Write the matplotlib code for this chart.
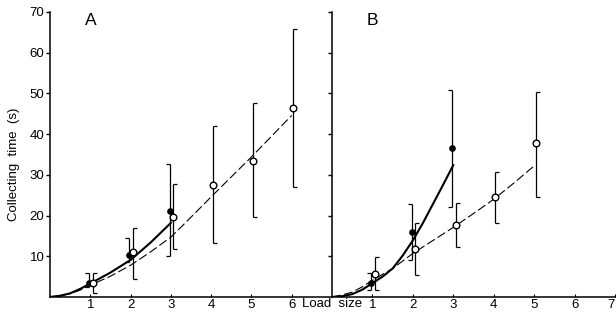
import numpy as np
import matplotlib
matplotlib.use('Agg')
import matplotlib.pyplot as plt

plt.rcParams['font.family'] = ['Liberation Sans', 'DejaVu Sans']

# ---- panel A data ----
a_full_x = [0.97, 1.97, 2.97]
a_full_y = [3.5, 10.3, 21.2]
a_full_lo = [2.5, 8.6, 10.1]
a_full_hi = [5.9, 14.5, 32.7]

a_open_x = [1.06, 2.06, 3.06, 4.04, 5.04, 6.04]
a_open_y = [3.5, 11.0, 19.6, 27.5, 33.5, 46.5]
a_open_lo = [1.0, 4.4, 11.9, 13.2, 19.6, 27.0]
a_open_hi = [5.9, 17.0, 27.7, 42.0, 47.7, 65.8]

# fitted curves, points
a_solid_x = [0, 0.25, 0.5, 0.75, 1, 1.5, 2, 2.5, 3]
a_solid_y = [0, 0.3, 0.9, 2.0, 3.3, 6.0, 9.1, 13.4, 18.2]
a_dash_x = [0, 0.25, 0.5, 0.75, 1, 1.5, 2, 2.5, 3, 3.5, 4, 4.5, 5, 5.5, 6]
a_dash_y = [0, 0.3, 0.8, 1.7, 2.9, 5.1, 7.8, 11.1, 14.7, 19.6, 24.6, 29.5, 34.4, 39.5, 44.6]

# ---- panel B data ----
b_full_x = [0.97, 1.97, 2.97]
b_full_y = [3.5, 16.0, 36.6]
b_full_lo = [1.6, 9.0, 22.0]
b_full_hi = [6.0, 22.8, 50.9]

b_open_x = [1.06, 2.06, 3.06, 4.04, 5.04]
b_open_y = [5.6, 11.8, 17.7, 24.6, 37.8]
b_open_lo = [1.6, 5.4, 12.3, 18.2, 24.6]
b_open_hi = [9.7, 18.2, 23.1, 30.7, 50.4]

b_solid_x = [0, 0.25, 0.5, 0.75, 1, 1.25, 1.5, 1.75, 2, 2.25, 2.5, 2.75, 3]
b_solid_y = [0, 0.2, 0.7, 1.8, 3.4, 5.0, 7.0, 10.2, 13.9, 18.2, 22.9, 27.6, 32.4]
b_dash_x = [0, 0.25, 0.5, 0.75, 1, 1.5, 2, 2.5, 3, 3.5, 4, 4.5, 5]
b_dash_y = [0, 0.5, 1.2, 2.5, 4.1, 7.0, 10.7, 13.9, 17.1, 20.5, 24.0, 28.0, 32.2]

yticks = [10, 20, 30, 40, 50, 60, 70]
xticks = [1, 2, 3, 4, 5, 6, 7]

fig = plt.figure(figsize=(6.16, 3.21), dpi=100)
axA = fig.add_axes([0.0812, 0.0748, 0.4578, 0.8879])
axB = fig.add_axes([0.539, 0.0748, 0.4594, 0.8879])


def draw_panel(ax, fx, fy, flo, fhi, ox, oy, olo, ohi, sx, sy, dx, dy):
    ax.plot(sx, sy, color='black', lw=1.5, zorder=2)
    ax.plot(dx, dy, color='black', lw=0.8, dashes=(8, 3), zorder=2)
    cap = 0.1
    # filled points: bar with caps pointing left
    ax.vlines(fx, flo, fhi, color='black', lw=0.9, zorder=3)
    ax.hlines(flo, np.array(fx) - cap, fx, color='black', lw=0.9, zorder=3)
    ax.hlines(fhi, np.array(fx) - cap, fx, color='black', lw=0.9, zorder=3)
    # open points: bar with caps pointing right
    ax.vlines(ox, olo, ohi, color='black', lw=0.9, zorder=3)
    ax.hlines(olo, ox, np.array(ox) + cap, color='black', lw=0.9, zorder=3)
    ax.hlines(ohi, ox, np.array(ox) + cap, color='black', lw=0.9, zorder=3)
    ax.plot(fx, fy, 'o', ms=3.8, mfc='black', mec='black', zorder=4)
    ax.plot(ox, oy, 'o', ms=4.8, mfc='white', mec='black', mew=1.0, zorder=4)

    ax.set_xlim(0, 7)
    ax.set_ylim(0, 70)
    ax.spines['top'].set_visible(False)
    ax.spines['right'].set_visible(False)
    for s in ('left', 'bottom'):
        ax.spines[s].set_linewidth(1.1)
    ax.set_yticks(yticks)
    ax.tick_params(axis='y', direction='out', length=3, width=1.0, labelsize=9.5, pad=1)
    ax.tick_params(axis='x', direction='in', length=2, width=0.8, labelsize=9.5, pad=1.5)
    ax.patch.set_alpha(0)


draw_panel(axA, a_full_x, a_full_y, a_full_lo, a_full_hi,
           a_open_x, a_open_y, a_open_lo, a_open_hi,
           a_solid_x, a_solid_y, a_dash_x, a_dash_y)
draw_panel(axB, b_full_x, b_full_y, b_full_lo, b_full_hi,
           b_open_x, b_open_y, b_open_lo, b_open_hi,
           b_solid_x, b_solid_y, b_dash_x, b_dash_y)

axA.set_xticks(xticks[:-1])
axA.set_xticklabels([str(t) for t in xticks[:-1]])
axB.set_xticks(xticks)
axB.set_xticklabels([str(t) for t in xticks])
axB.get_xticklabels()[-1].set_horizontalalignment('right')
axB.set_yticklabels([])
axA.set_ylabel('Collecting  time  (s)', fontsize=9.5)
axA.yaxis.set_label_coords(-0.106, 0.467)

axA.text(1.0, 68, 'A', fontsize=12.5, ha='center', va='center')
axB.text(1.0, 68, 'B', fontsize=12.5, ha='center', va='center')
fig.text(332 / 616, 1 - 304 / 321, 'Load  size', fontsize=9.5, ha='center', va='center')

fig.savefig('out.png', dpi=100)
